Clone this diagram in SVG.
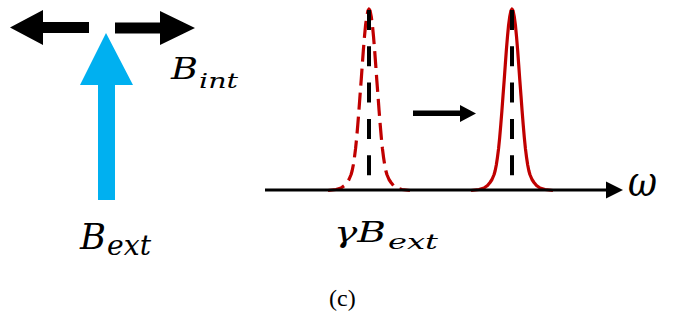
<svg xmlns="http://www.w3.org/2000/svg" xmlns:xlink="http://www.w3.org/1999/xlink" width="688" height="320" viewBox="0 0 688 320">
  <style>
    .blk { fill: #000000; }
    .math { font-family: "DejaVu Serif", "Liberation Serif", serif; font-style: italic; fill: #000000; }
    .cap { font-family: "Liberation Serif", "DejaVu Serif", serif; fill: #000000; }
    .peak { fill: none; stroke: #C00000; stroke-width: 3.2; stroke-linejoin: round; }
    .dashed { stroke-dasharray: 17 7; }
    .center { stroke: #000000; stroke-width: 4; stroke-dasharray: 20 16.3; }
  </style>
  <defs>
    <polyline id="peakShape" points="-41,190.5 -33,189.5 -28,188 -24.5,185.5 -22,182.5 -20,179.5 -17.9,174.5 -16.8,170.5 -15.7,165 -14.6,157.7 -13.4,148.4 -12.3,137.3 -11.2,124.7 -10.1,110.8 -9,95.8 -7.8,80.2 -6.7,64.6 -5.6,49.7 -4.5,36.3 -3.4,24.9 -2.2,16.2 -1.1,10.8 0,9 1.1,10.8 2.2,16.2 3.4,24.9 4.5,36.3 5.6,49.7 6.7,64.6 7.8,80.2 9,95.8 10.1,110.8 11.2,124.7 12.3,137.3 13.4,148.4 14.6,157.7 15.7,165 16.8,170.5 17.9,174.5 20,179.5 22,182.5 24.5,185.5 28,188 33,189.5 41,190.5"/>
  </defs>

  <g id="b-int-arrows">
    <polygon class="blk" points="10,27.5 43,10 43,22 89,22 89,33 43,33 43,45"/>
    <polygon class="blk" points="195,28 160,11 160,22.5 115,22.5 115,33.5 160,33.5 160,45"/>
  </g>
  <g id="b-int-label">
    <text class="math" x="171" y="79" font-size="29" textLength="27" lengthAdjust="spacingAndGlyphs">B</text>
    <text class="math" x="199" y="88" font-size="21" textLength="39" lengthAdjust="spacingAndGlyphs">int</text>
  </g>

  <g id="b-ext-arrow">
    <polygon fill="#00B0F0" points="106,33 133,85 115,85 115,200 98,200 98,85 80,85"/>
  </g>
  <g id="b-ext-label">
    <text class="math" x="80" y="249" font-size="36" textLength="26" lengthAdjust="spacingAndGlyphs">B</text>
    <text class="math" x="107" y="255" font-size="27" textLength="44" lengthAdjust="spacingAndGlyphs">ext</text>
  </g>

  <g id="peak-before">
    <use xlink:href="#peakShape" x="369" class="peak dashed"/>
    <line class="center" x1="369" y1="10" x2="369" y2="176"/>
  </g>
  <g id="peak-after">
    <use xlink:href="#peakShape" x="512" class="peak"/>
    <line class="center" x1="512" y1="10" x2="512" y2="176"/>
  </g>

  <g id="connectors">
    <g id="omega-axis">
      <line x1="265" y1="190" x2="608" y2="190" stroke="#000000" stroke-width="3"/>
      <polygon class="blk" points="623,190 606,181.5 606,198.5"/>
    </g>
    <g id="shift-arrow">
      <polygon class="blk" points="413,110.5 460,110.5 460,105 476,113.5 460,122 460,116 413,116"/>
    </g>
  </g>

  <g id="omega-label">
    <text class="math" x="628" y="196" font-size="42" textLength="29" lengthAdjust="spacingAndGlyphs">ω</text>
  </g>
  <g id="gamma-label">
    <text class="math" x="334" y="242" font-size="27" textLength="52" lengthAdjust="spacingAndGlyphs">γB</text>
    <text class="math" x="388" y="249" font-size="21" textLength="50" lengthAdjust="spacingAndGlyphs">ext</text>
  </g>
  <g id="caption">
    <text class="cap" x="329" y="306" font-size="24">(c)</text>
  </g>
</svg>
